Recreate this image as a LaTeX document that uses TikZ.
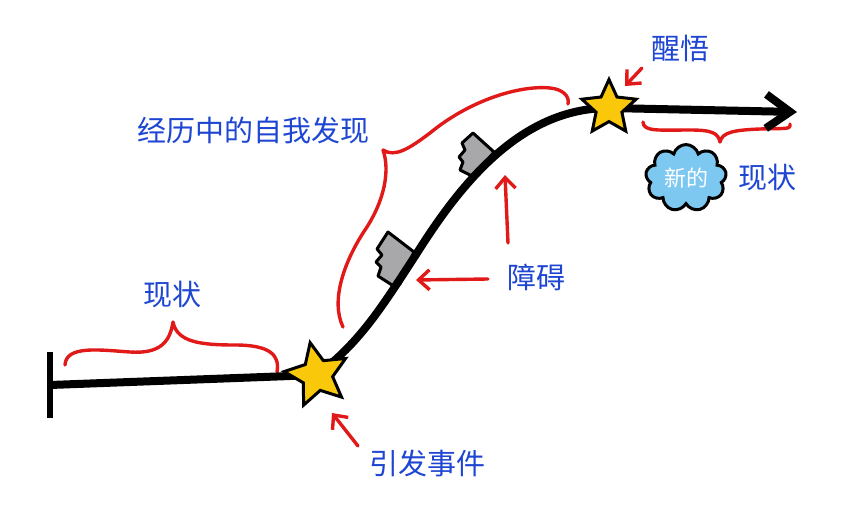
\documentclass[tikz,border=0pt]{standalone}
\usepackage{fontspec}
\setmainfont{Noto Sans CJK SC}
\usetikzlibrary{arrows.meta,shapes.geometric,shapes.symbols,positioning}
\definecolor{inkblue}{RGB}{30,70,210}
\definecolor{inkred}{RGB}{225,25,25}
\definecolor{staryellow}{RGB}{250,200,10}
\definecolor{blockgray}{RGB}{168,168,170}
\definecolor{cloudblue}{RGB}{125,200,240}
\begin{document}
\begin{tikzpicture}[
x=1pt, y=-1pt,
>={Straight Barb[length=11pt,width=20pt]},
node distance=81pt,
bluetext/.style={text=inkblue,font=\fontsize{29}{29}\selectfont,inner sep=0pt},
track/.style={draw,line width=8pt},
brace/.style={draw=inkred,line width=3.4pt,line cap=round,line join=round},
pointer/.style={draw=inkred,line width=3.4pt,->,line cap=round},
starmark/.style={star,star points=5,star point ratio=2.1,draw,line width=3pt,fill=staryellow,inner sep=0pt},
hurdle/.style={draw,line width=3pt,fill=blockgray,line join=round}
]
\useasboundingbox (0,0) rectangle (860,522);

\coordinate (bartop) at (50,352);
\coordinate (barbottom) at (50,418);
\coordinate (start) at (50,385);
\coordinate (p1) at (317,375);
\coordinate (p2) at (609,108);
\coordinate (finish) at (797,112);

% braces
\path[brace] (65,365) .. controls (66,345) and (100,350) .. (130,352)
  .. controls (160,354) and (170,342) .. (173,322)
  .. controls (177,342) and (200,345) .. (235,345)
  .. controls (270,345) and (280,355) .. (277,372);
\path[brace] (343,327) .. controls (330,300) and (345,260) .. (365,230)
  .. controls (385,200) and (390,170) .. (383,150)
  .. controls (395,158) and (410,148) .. (430,133)
  .. controls (470,100) and (520,85) .. (550,88)
  .. controls (562,89) and (570,96) .. (568,104);
\path[brace] (643,122) .. controls (643,132) and (660,130) .. (690,130)
  .. controls (712,130) and (718,133) .. (720,142)
  .. controls (722,132) and (735,130) .. (760,129)
  .. controls (785,128) and (791,130) .. (790,124);

% obstacles
\path[hurdle] (388,232) -- (414,252) -- (400,284) -- (392,285) -- (378,276) -- (381,267)
  -- (376,262) -- (382,255) -- (377,249) -- cycle;
\path[hurdle] (473,133) -- (494,152) -- (474,177) -- (460,170) -- (463,162)
  -- (459,157) -- (465,150) -- (462,143) -- cycle;

% path of the story
\path[draw,line width=6pt] (bartop) -- (barbottom);
\path[track] (start) -- (p1);
\path[track] (p1) .. controls (360,342) and (380,310) .. (417,253)
  .. controls (460,185) and (520,108) .. (p2);
\path[track,->,>={Straight Barb[length=24pt,width=34pt]}] (p2) -- (finish);

\node[starmark,minimum size=66pt,rotate=12] (trigger) at (p1) {};
\node[starmark,minimum size=57pt] (insight) at (p2) {};

\node[cloud,cloud puffs=9,aspect=1.4,minimum width=80pt,minimum height=58pt,
  draw,line width=3pt,fill=cloudblue,text=white,
  font=\fontsize{22}{22}\selectfont] (cloud) at (686,178) {新的};
\node[bluetext] (newstate) [right of = cloud] {现状};

\node[bluetext] (status) at (172,295) {现状};
\node[bluetext] (journey) at (253,130) {经历中的自我发现};
\node[bluetext] (wake) at (680,48) {醒悟};
\node[bluetext] (obstacle) at (536,277) {障碍};
\node[bluetext] (triggertext) at (427,463) {引发事件};

\coordinate (waketail) at (642,68);
\coordinate (waketip) at (625,86);
\coordinate (triggertail) at (358,446);
\coordinate (triggertip) at (332,413);
\coordinate (lowtail) at (488,279);
\coordinate (lowtip) at (416,280);
\coordinate (hightail) at (508,243);
\coordinate (hightip) at (505,175);

\path[pointer] (waketail) -- (waketip);
\path[pointer] (triggertail) -- (triggertip);
\path[pointer] (lowtail) -- (lowtip);
\path[pointer] (hightail) -- (hightip);

\end{tikzpicture}
\end{document}
